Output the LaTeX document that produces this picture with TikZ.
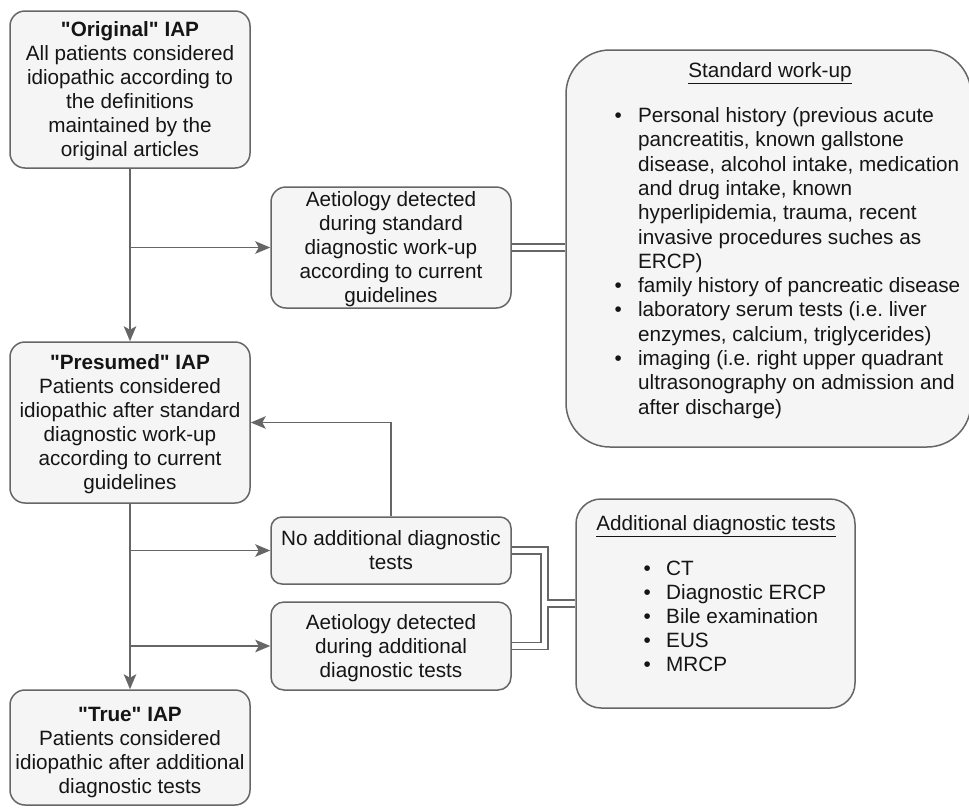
\documentclass[tikz,border=0pt]{standalone}
\usepackage{fontspec}
\setmainfont{Liberation Sans}
\usetikzlibrary{arrows.meta}
\definecolor{linegray}{HTML}{666666}
\definecolor{boxfill}{HTML}{F5F5F5}
\definecolor{txt}{HTML}{151515}
\newcommand\diagfont{\fontsize{20.7pt}{24pt}\selectfont\frenchspacing}
\newcommand\listfont{\fontsize{20.7pt}{24.3pt}\selectfont\frenchspacing}
\newcommand\qd{\textquotedbl}
\newcommand\ftop{\rule{0pt}{19.2pt}}
\newcommand\fbot{\rule[-4.8pt]{0pt}{4.8pt}}
\begin{document}
\begin{tikzpicture}[x=1pt,y=-1pt,
  box/.style={draw=linegray, fill=boxfill, line width=1.5pt, inner sep=0pt, align=center, font=\diagfont, text=txt},
  arr/.style={draw=linegray, line width=1.5pt, -{Stealth[length=15pt,width=12.5pt,inset=3.5pt]}},
  link/.style={draw=linegray, line width=1.5pt, double=white, double distance=5.5pt},
  txtnode/.style={inner sep=0pt, text=txt}]
\useasboundingbox (0,0) rectangle (969,807);
\fill[white] (0,0) rectangle (969,807);

% boxes
\node[box, rounded corners=15pt, minimum width=240pt, minimum height=157pt] (orig) at (130,89.5)
  {\ftop\textbf{\qd Original\qd{} IAP}\\All patients considered\\idiopathic according to\\the definitions\\maintained by the\\original articles\fbot};
\node[box, rounded corners=15pt, minimum width=240pt, minimum height=161pt] (pres) at (130,422.5)
  {\ftop\textbf{\qd Presumed\qd{} IAP}\\Patients considered\\idiopathic after standard\\diagnostic work-up\\according to current\\guidelines\fbot};
\node[box, rounded corners=15pt, minimum width=240pt, minimum height=115pt] (true) at (130,747.5) {};
\node[txtnode, align=center, font=\diagfont] (truetxt) at ([yshift=-3pt]true.center)
  {\ftop\textbf{\qd True\qd{} IAP}\\Patients considered\\idiopathic after additional\\diagnostic tests\fbot};
\node[box, rounded corners=15pt, minimum width=240pt, minimum height=121pt] (aet1) at (391,247.5)
  {\ftop Aetiology detected\\during standard\\diagnostic work-up\\according to current\\guidelines\fbot};
\node[box, rounded corners=11pt, minimum width=240pt, minimum height=67pt] (noadd) at (391,550.5)
  {\ftop No additional diagnostic\\tests\fbot};
\node[box, rounded corners=13pt, minimum width=240pt, minimum height=88pt] (aet2) at (391,646)
  {\ftop Aetiology detected\\during additional\\diagnostic tests\fbot};
\node[box, rounded corners=25pt, minimum width=279pt, minimum height=209pt] (add) at (715.5,603.5) {};
\node[box, rounded corners=44pt, minimum width=405pt, minimum height=397pt] (std) at (768.5,248.5) {};

% texts of the two list boxes
\node[txtnode, font=\diagfont, anchor=base] (stdtitle) at (770,77.3) {\underline{Standard work-up}};
\node[txtnode, font=\listfont, anchor=base west] (stdlist) at (614.4,122.5)
  {\begin{tabular}[t]{@{}l@{\hspace{16.3pt}}l@{}}
  \textbullet & Personal history (previous acute\\
   & pancreatitis, known gallstone\\
   & disease, alcohol intake, medication\\
   & and drug intake, known\\
   & hyperlipidemia, trauma, recent\\
   & invasive procedures suches as\\
   & ERCP)\\
  \textbullet & family history of pancreatic disease\\
  \textbullet & laboratory serum tests (i.e. liver\\
   & enzymes, calcium, triglycerides)\\
  \textbullet & imaging (i.e. right upper quadrant\\
   & ultrasonography on admission and\\
   & after discharge)
  \end{tabular}};
\node[txtnode, font=\diagfont, anchor=base] (addtitle) at (716,530) {\underline{Additional diagnostic tests}};
\node[txtnode, font=\diagfont, anchor=base west] (addlist) at (643.4,575)
  {\begin{tabular}[t]{@{}l@{\hspace{15.4pt}}l@{}}
  \textbullet & CT\\
  \textbullet & Diagnostic ERCP\\
  \textbullet & Bile examination\\
  \textbullet & EUS\\
  \textbullet & MRCP
  \end{tabular}};

% connectors
\coordinate (b1) at (orig.south |- aet1.west);
\coordinate (b2) at (pres.south |- noadd.west);
\coordinate (b3) at (pres.south |- aet2.west);
\coordinate (j1) at (544.5,0 |- noadd.east);
\coordinate (j2) at (544.5,0 |- aet2.east);
\draw[arr] (orig.south) -- (pres.north);
\draw[arr] (b1) -- (aet1.west);
\draw[arr] (pres.south) -- (true.north);
\draw[arr] (b2) -- (noadd.west);
\draw[arr] (b3) -- (aet2.west);
\draw[arr] (noadd.north) |- (pres.east);
\draw[link] (aet1.east) -- (aet1.east -| std.west);
\draw[link] (noadd.east) -- (j1) |- (add.west) (aet2.east) -- (j2) |- (add.west);
\end{tikzpicture}
\end{document}
